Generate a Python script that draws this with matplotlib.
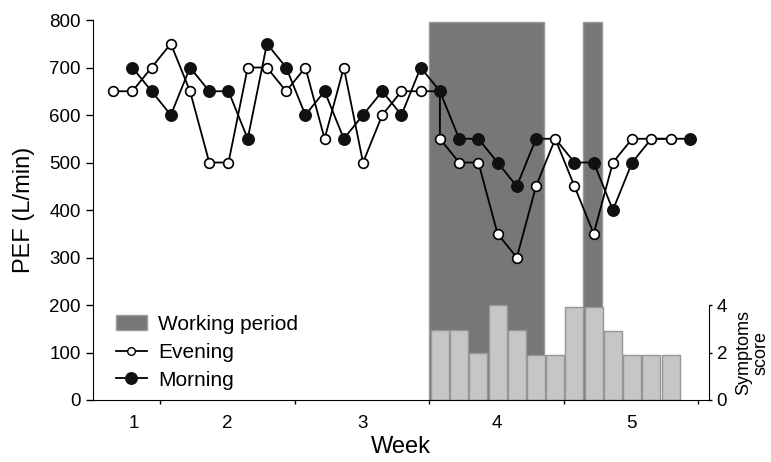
import numpy as np
import matplotlib
matplotlib.use("Agg")
import matplotlib.pyplot as plt
from matplotlib.patches import Patch
from matplotlib.lines import Line2D
from matplotlib.transforms import blended_transform_factory

plt.rcParams['font.family'] = ['Liberation Sans', 'DejaVu Sans']

# day index of each reading (one per day), PEF in L/min
evening_days = [0, 1, 2, 3, 4, 5, 6, 7, 8, 9, 10, 11, 12, 13, 14, 15, 16, 17, 17,
                18, 19, 20, 21, 22, 23, 24, 25, 26, 27, 28, 29]
evening_pef = [650, 650, 700, 750, 650, 500, 500, 700, 700, 650, 700, 550, 700, 500, 600,
               650, 650, 650, 550, 500, 500, 350, 300, 450, 550, 450, 350, 500, 550, 550, 550]
evening_hidden = [17]  # corner point covered by the morning marker

morning_days = list(range(1, 31))
morning_pef = [700, 650, 600, 700, 650, 650, 550, 750, 700, 600, 650, 550, 600, 650, 600,
               700, 650, 550, 550, 500, 450, 550, 550, 500, 500, 400, 500, 550, 550, 550]
morning_hidden = [23, 28, 29]  # days where the evening marker sits on top

symptom_days = list(range(17, 30))
symptom_scores = [2.95, 2.95, 2.0, 4.0, 2.95, 1.9, 1.9, 3.9, 3.9, 2.9, 1.9, 1.9, 1.9]

work_start = [16.45, 24.45]
work_end = [22.4, 25.45]

week_bounds = [2.45, 9.45, 16.45, 23.45, 30.45]
week_label_pos = [1.1, 5.95, 12.95, 19.95, 26.95]
week_labels = ["1", "2", "3", "4", "5"]

pef_max = 800
score_max = 16  # symptom axis top, so that score 4 sits at PEF 200

fig = plt.figure(figsize=(7.71, 4.62), dpi=100)
ax = fig.add_axes([0.1206, 0.1342, 0.7990, 0.8225])

# working periods
for s, e in zip(work_start, work_end):
    ax.bar(s, 795, width=e - s, align='edge', color='#777777',
           edgecolor='#9a9a9a', linewidth=1, zorder=1)

# symptom score bars, scaled onto the PEF axis
scale = pef_max / score_max
ax.bar(symptom_days, np.array(symptom_scores) * scale, width=0.94,
       color='#c6c6c6', edgecolor='#969696', linewidth=1, zorder=2)

# PEF curves
ax.plot(evening_days, evening_pef, color='black', lw=1.3, zorder=3)
m_every = [i for i, d in enumerate(morning_days) if d not in morning_hidden]
ax.plot(morning_days, morning_pef, color='black', lw=1.3, marker='o',
        markevery=m_every, markersize=8.3, markerfacecolor='#111111',
        markeredgecolor='#111111', zorder=4)
e_every = [i for i in range(len(evening_days)) if i not in evening_hidden]
ax.plot(evening_days, evening_pef, ls='none', marker='o', markevery=e_every,
        markersize=7, markerfacecolor='white', markeredgecolor='black',
        markeredgewidth=1.2, zorder=5)

ax.set_xlim(-1.05, 31.0)
ax.set_ylim(0, pef_max)
ax.set_yticks(range(0, 801, 100))
ax.tick_params(axis='y', labelsize=13.5, length=4.8, width=1, pad=4)

ax.set_xticks(week_bounds)
ax.set_xticklabels([])
ax.set_xticks(week_label_pos, minor=True)
ax.set_xticklabels(week_labels, minor=True)
ax.tick_params(axis='x', which='major', length=3, width=1)
ax.tick_params(axis='x', which='minor', length=0, labelsize=13.5, pad=11)

ax.set_ylabel('PEF (L/min)', fontsize=17, labelpad=10)
ax.set_xlabel('Week', fontsize=17, labelpad=3)

for side in ['top', 'right']:
    ax.spines[side].set_visible(False)
ax.spines['left'].set_bounds(0, pef_max)

# symptom score axis on the right
ax2 = ax.twinx()
ax2.set_ylim(0, score_max)
ax2.set_yticks([0, 2, 4])
ax2.tick_params(axis='y', labelsize=13.5, length=2.5, width=1, pad=3)
for side in ['top', 'left', 'bottom']:
    ax2.spines[side].set_visible(False)
ax2.spines['right'].set_bounds(0, 4)
tr = blended_transform_factory(ax2.transAxes, ax2.transData)
ax2.text(1.07, 2.0, 'Symptoms\nscore', transform=tr, rotation=90,
         ha='center', va='center', fontsize=13, linespacing=1.0)

handles = [
    Patch(facecolor='#777777', edgecolor='#9a9a9a', label='Working period'),
    Line2D([], [], color='black', lw=1.3, marker='o', markersize=5.5,
           markerfacecolor='white', markeredgecolor='black', label='Evening'),
    Line2D([], [], color='black', lw=1.3, marker='o', markersize=8.3,
           markerfacecolor='#111111', markeredgecolor='#111111', label='Morning'),
]
ax.legend(handles=handles, loc='lower left', bbox_to_anchor=(0.02, 0.0),
          frameon=False, fontsize=15, handlelength=1.5, labelspacing=0.42,
          handletextpad=0.55, borderaxespad=0.1)

fig.savefig('out.png', dpi=100)
